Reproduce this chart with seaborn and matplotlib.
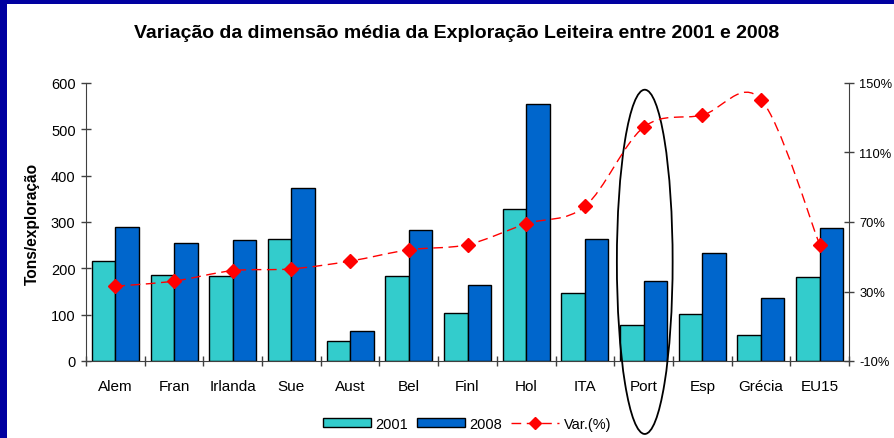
import numpy as np
import pandas as pd
import matplotlib
matplotlib.use("Agg")
import matplotlib.pyplot as plt
import seaborn as sns
from matplotlib.path import Path
from matplotlib.patches import PathPatch, Ellipse, Rectangle, Patch
from matplotlib.lines import Line2D

categories = ["Alem", "Fran", "Irlanda", "Sue", "Aust", "Bel", "Finl", "Hol",
              "ITA", "Port", "Esp", "Grécia", "EU15"]
v2001 = [216, 186, 183, 264, 43, 184, 103, 328, 147, 78, 101, 57, 181]
v2008 = [289, 255, 261, 374, 65, 282, 163, 555, 264, 173, 233, 135, 287]
var_pct = [33, 36, 42, 43, 47.5, 54, 57, 69, 79, 124.5, 131.5, 140.5, 57]
series_names = ["2001", "2008"]
right_ticks = [-10, 30, 70, 110, 150]
left_ticks = [0, 100, 200, 300, 400, 500, 600]

sns.set_style("white")
plt.rcParams["font.family"] = ["Liberation Sans", "DejaVu Sans"]
plt.rcParams["text.color"] = "black"
plt.rcParams["axes.labelcolor"] = "black"
plt.rcParams["xtick.labelcolor"] = "black"
plt.rcParams["ytick.labelcolor"] = "black"

df = pd.DataFrame({
    "cat": categories * 2,
    "val": v2001 + v2008,
    "ano": [series_names[0]] * len(categories) + [series_names[1]] * len(categories),
})

fig = plt.figure(figsize=(8.94, 4.39), dpi=100)
ax = fig.add_axes([86 / 894, 1 - 362 / 439, (849 - 86) / 894, (362 - 84) / 439])

c2001 = "#33CCCC"
c2008 = "#0066CC"
sns.barplot(data=df, x="cat", y="val", hue="ano", palette=[c2001, c2008],
            edgecolor="black", linewidth=1.0, width=0.8, ax=ax, legend=False,
            saturation=1)

ax.set_xlim(-0.5, len(categories) - 0.5)
ax.set_ylim(0, 600)
ax.set_yticks(left_ticks)
ax.set_xlabel("")
ax.set_ylabel("")
for s in ["top", "right"]:
    ax.spines[s].set_visible(False)
ax.spines["left"].set_color("#404040")
ax.spines["bottom"].set_color("#404040")
ax.tick_params(axis="y", direction="inout", length=7, width=1, color="#404040",
               labelsize=10.5, pad=4, left=True, labelcolor="black")
ax.tick_params(axis="x", which="major", length=0, labelsize=11, pad=13,
               labelcolor="black")
ax.set_xticks(np.arange(-0.5, len(categories) + 0.5, 1), minor=True)
ax.tick_params(axis="x", which="minor", direction="inout", length=7, width=1,
               color="#404040", bottom=True)

ax2 = ax.twinx()
ax2.set_ylim(-10, 150)
ax2.set_yticks(right_ticks)
ax2.set_yticklabels([f"{t}%" for t in right_ticks])
for s in ["top", "left", "bottom"]:
    ax2.spines[s].set_visible(False)
ax2.spines["right"].set_color("#404040")
ax2.tick_params(axis="y", direction="inout", length=7, width=1, color="#404040",
                labelsize=9.3, pad=4, right=True, labelcolor="black")

# Smoothed dashed curve (Catmull-Rom style bezier through the data points)
xs = np.arange(len(categories), dtype=float)
ys = np.array(var_pct, dtype=float)
pts = np.column_stack([xs, ys])
verts = [tuple(pts[0])]
codes = [Path.MOVETO]
n = len(pts)
for i in range(n - 1):
    p0 = pts[i - 1] if i > 0 else pts[i]
    p1 = pts[i]
    p2 = pts[i + 1]
    p3 = pts[i + 2] if i + 2 < n else pts[i + 1]
    c1 = p1 + (p2 - p0) / 6.0
    c2 = p2 - (p3 - p1) / 6.0
    verts += [tuple(c1), tuple(c2), tuple(p2)]
    codes += [Path.CURVE4] * 3
curve = PathPatch(Path(verts, codes), facecolor="none", edgecolor="red",
                  linewidth=1.0, linestyle=(0, (7, 4)), zorder=3)
ax2.add_patch(curve)
ax2.plot(xs, ys, linestyle="none", marker="D", markersize=7, color="red", zorder=4)

# Ellipse highlighting Portugal
ell = Ellipse((9.02, 214), width=0.95, height=743, facecolor="none",
              edgecolor="black", linewidth=1.3, clip_on=False, zorder=5)
ax.add_patch(ell)

fig.text(457 / 894, 1 - 33 / 439, "Variação da dimensão média da Exploração Leiteira entre 2001 e 2008",
         ha="center", va="center", fontsize=14, fontweight="bold", color="black")
fig.text(32 / 894, 1 - 224 / 439, "Tons/exploração", rotation=90, ha="center",
         va="center", fontsize=11.2, fontweight="bold", color="black")

handles = [Patch(facecolor=c2001, edgecolor="black", linewidth=1.0),
           Patch(facecolor=c2008, edgecolor="black", linewidth=1.0),
           Line2D([0], [0], color="red", linewidth=1.0, linestyle=(0, (7, 4)),
                  marker="D", markersize=6)]
fig.legend(handles, ["2001", "2008", "Var.(%)"], loc="center",
           bbox_to_anchor=(467 / 894, 1 - 425 / 439), ncol=3, frameon=False,
           fontsize=10.5, handlelength=3.3, handleheight=0.55, columnspacing=0.6,
           handletextpad=0.3)

# Dark blue frame on top and left edges
fig.patches.append(Rectangle((0, 1 - 5 / 439), 1, 5 / 439, transform=fig.transFigure,
                             facecolor="#0000A0", edgecolor="none", zorder=10))
fig.patches.append(Rectangle((0, 0), 7 / 894, 1, transform=fig.transFigure,
                             facecolor="#0000A0", edgecolor="none", zorder=10))

fig.savefig("out.png", dpi=100)
